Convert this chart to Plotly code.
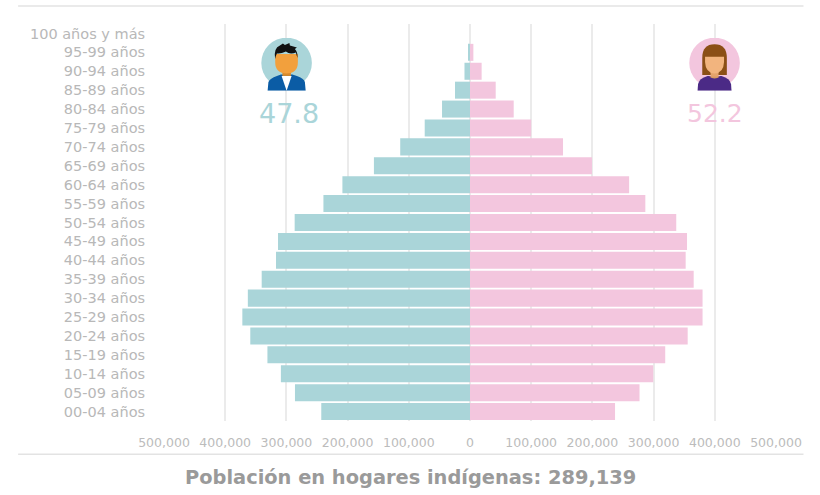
import base64
import plotly.graph_objects as go

FONT = "DejaVu Sans"
TEAL = "#AAD5D9"
PINK = "#F3C6DE"

age_groups = ["100 años y más", "95-99 años", "90-94 años", "85-89 años", "80-84 años",
              "75-79 años", "70-74 años", "65-69 años", "60-64 años", "55-59 años",
              "50-54 años", "45-49 años", "40-44 años", "35-39 años", "30-34 años",
              "25-29 años", "20-24 años", "15-19 años", "10-14 años", "05-09 años",
              "00-04 años"]
men = [0, 2500, 9000, 24500, 45700, 74000, 114000, 157000, 208500, 239500,
       286500, 313700, 317000, 340400, 363000, 372000, 359000, 331000, 309000, 286000, 243000]
women = [0, 5500, 19000, 42000, 71400, 100000, 152000, 199300, 260000, 286500,
         337000, 354600, 352400, 365500, 380000, 380000, 355700, 319000, 299500, 277000, 237000]
tick_values = [-500000, -400000, -300000, -200000, -100000, 0,
               100000, 200000, 300000, 400000, 500000]
tick_labels = ["500,000", "400,000", "300,000", "200,000", "100,000", "0",
               "100,000", "200,000", "300,000", "400,000", "500,000"]
title_text = "Población en hogares indígenas: 289,139"
men_share = "47.8"
women_share = "52.2"

W, H = 820, 495
L, R, T, B = 164, 776.5, 24, 421.5


def px(x):
    return (x - L) / (R - L)


def py(y):
    return (B - y) / (B - T)


MAN_SVG = f"""<svg xmlns="http://www.w3.org/2000/svg" width="240" height="216" viewBox="0 0 60 54">
<defs><clipPath id="c"><rect x="0" y="0" width="60" height="52.8"/></clipPath></defs>
<g clip-path="url(#c)">
<circle cx="29.7" cy="25" r="25.3" fill="{TEAL}"/>
<path d="M10.7 52.8 L11.5 44 Q13 40.5 20 38 L24 36.5 H35.5 L40 38 Q47 40.5 48 44 L48.8 52.8 Z" fill="#0B5CA5"/>
<path d="M24.7 38 H34.7 L29.7 52.8 Z" fill="#ffffff"/>
<rect x="25.5" y="31" width="8.5" height="7" fill="#D98A2B"/>
<path d="M18.3 16 H41 V24 Q41 35.5 29.7 35.5 Q18.3 35.5 18.3 24 Z" fill="#F2A03D"/>
<path d="M18.2 21 Q16.5 10 23 7.5 L26 5.5 L28 7 L32.5 5 L33 7.5 L40 9.5 L38 11 Q41 14 40.5 20 L39 14.5 Q33 17 29 13.5 Q24 16 20 15.5 Q18.7 18 18.2 21 Z" fill="#111111"/>
</g></svg>"""

WOMAN_SVG = f"""<svg xmlns="http://www.w3.org/2000/svg" width="240" height="216" viewBox="0 0 60 54">
<defs><clipPath id="c"><rect x="0" y="0" width="60" height="52.8"/></clipPath></defs>
<g clip-path="url(#c)">
<circle cx="30" cy="25" r="25.3" fill="{PINK}"/>
<path d="M17.7 37 V20 Q17.7 6.3 30 6.3 Q42.3 6.3 42.3 20 V37 Z" fill="#8B4F16"/>
<path d="M13 52.8 L13.5 46 Q14.5 40.5 23 38 H37 Q45.5 40.5 46.5 46 L47 52.8 Z" fill="#4B2A86"/>
<path d="M24.5 38.5 H35.5 Q30 42.5 24.5 38.5 Z" fill="#D99A5F"/>
<rect x="26" y="31" width="8" height="8" fill="#E5A36B"/>
<path d="M20.5 18.7 H39.5 V24 Q39 35 30 35.5 Q21 35 20.5 24 Z" fill="#F2B47E"/>
</g></svg>"""


def uri(svg):
    return "data:image/svg+xml;base64," + base64.b64encode(svg.encode("utf-8")).decode("ascii")


fig = go.Figure()
fig.add_trace(go.Bar(y=age_groups, x=[-v for v in men], orientation="h", name="Hombres",
                     marker=dict(color=TEAL, line=dict(width=0)), showlegend=False))
fig.add_trace(go.Bar(y=age_groups, x=women, orientation="h", name="Mujeres",
                     marker=dict(color=PINK, line=dict(width=0)), showlegend=False))


def rule(y):
    return dict(type="line", xref="paper", yref="paper", x0=px(18), x1=px(804),
                y0=py(y), y1=py(y), line=dict(color="#e3e3e3", width=1.5))


fig.update_layout(
    width=W, height=H, autosize=False,
    margin=dict(l=L, r=W - R, t=T, b=H - B, pad=0),
    paper_bgcolor="white", plot_bgcolor="white",
    barmode="overlay", bargap=0.1,
    font=dict(family=FONT, color="#b8b8b8"),
    shapes=[rule(6), rule(454.7)],
    images=[
        dict(source=uri(MAN_SVG), xref="paper", yref="paper", x=px(257), y=py(38),
             sizex=60 / (R - L), sizey=54 / (B - T), xanchor="left", yanchor="top",
             sizing="stretch", layer="above"),
        dict(source=uri(WOMAN_SVG), xref="paper", yref="paper", x=px(685), y=py(38),
             sizex=60 / (R - L), sizey=54 / (B - T), xanchor="left", yanchor="top",
             sizing="stretch", layer="above"),
    ],
    annotations=[
        dict(text=men_share, xref="paper", yref="paper", x=px(289), y=py(114), showarrow=False,
             font=dict(family=FONT, size=27, color=TEAL), xanchor="center", yanchor="middle"),
        dict(text=women_share, xref="paper", yref="paper", x=px(715), y=py(114), showarrow=False,
             font=dict(family=FONT, size=25, color=PINK), xanchor="center", yanchor="middle"),
        dict(text=f"<b>{title_text}</b>", xref="paper", yref="paper", x=px(411), y=py(478.5),
             showarrow=False, font=dict(family=FONT, size=19.4, color="#9a9a9a"),
             xanchor="center", yanchor="middle"),
    ],
)
fig.update_xaxes(range=[-500000, 500000], tickmode="array", tickvals=tick_values, ticktext=tick_labels,
                 tickangle=0, showgrid=True, gridcolor="#ebebeb", gridwidth=1.5, zeroline=True,
                 zerolinecolor="#ebebeb", zerolinewidth=1.5, showline=False,
                 ticks="outside", ticklen=10, tickcolor="rgba(0,0,0,0)",
                 tickfont=dict(family=FONT, size=12.5, color="#bcbcbc"))
fig.update_yaxes(categoryorder="array", categoryarray=age_groups[::-1], showgrid=False,
                 zeroline=False, showline=False, ticks="outside", ticklen=15,
                 tickcolor="rgba(0,0,0,0)", tickfont=dict(family=FONT, size=14.5, color="#b8b8b8"))

fig.write_html("out.html", config={"displayModeBar": False},
               post_script="document.body.style.margin='0';")
